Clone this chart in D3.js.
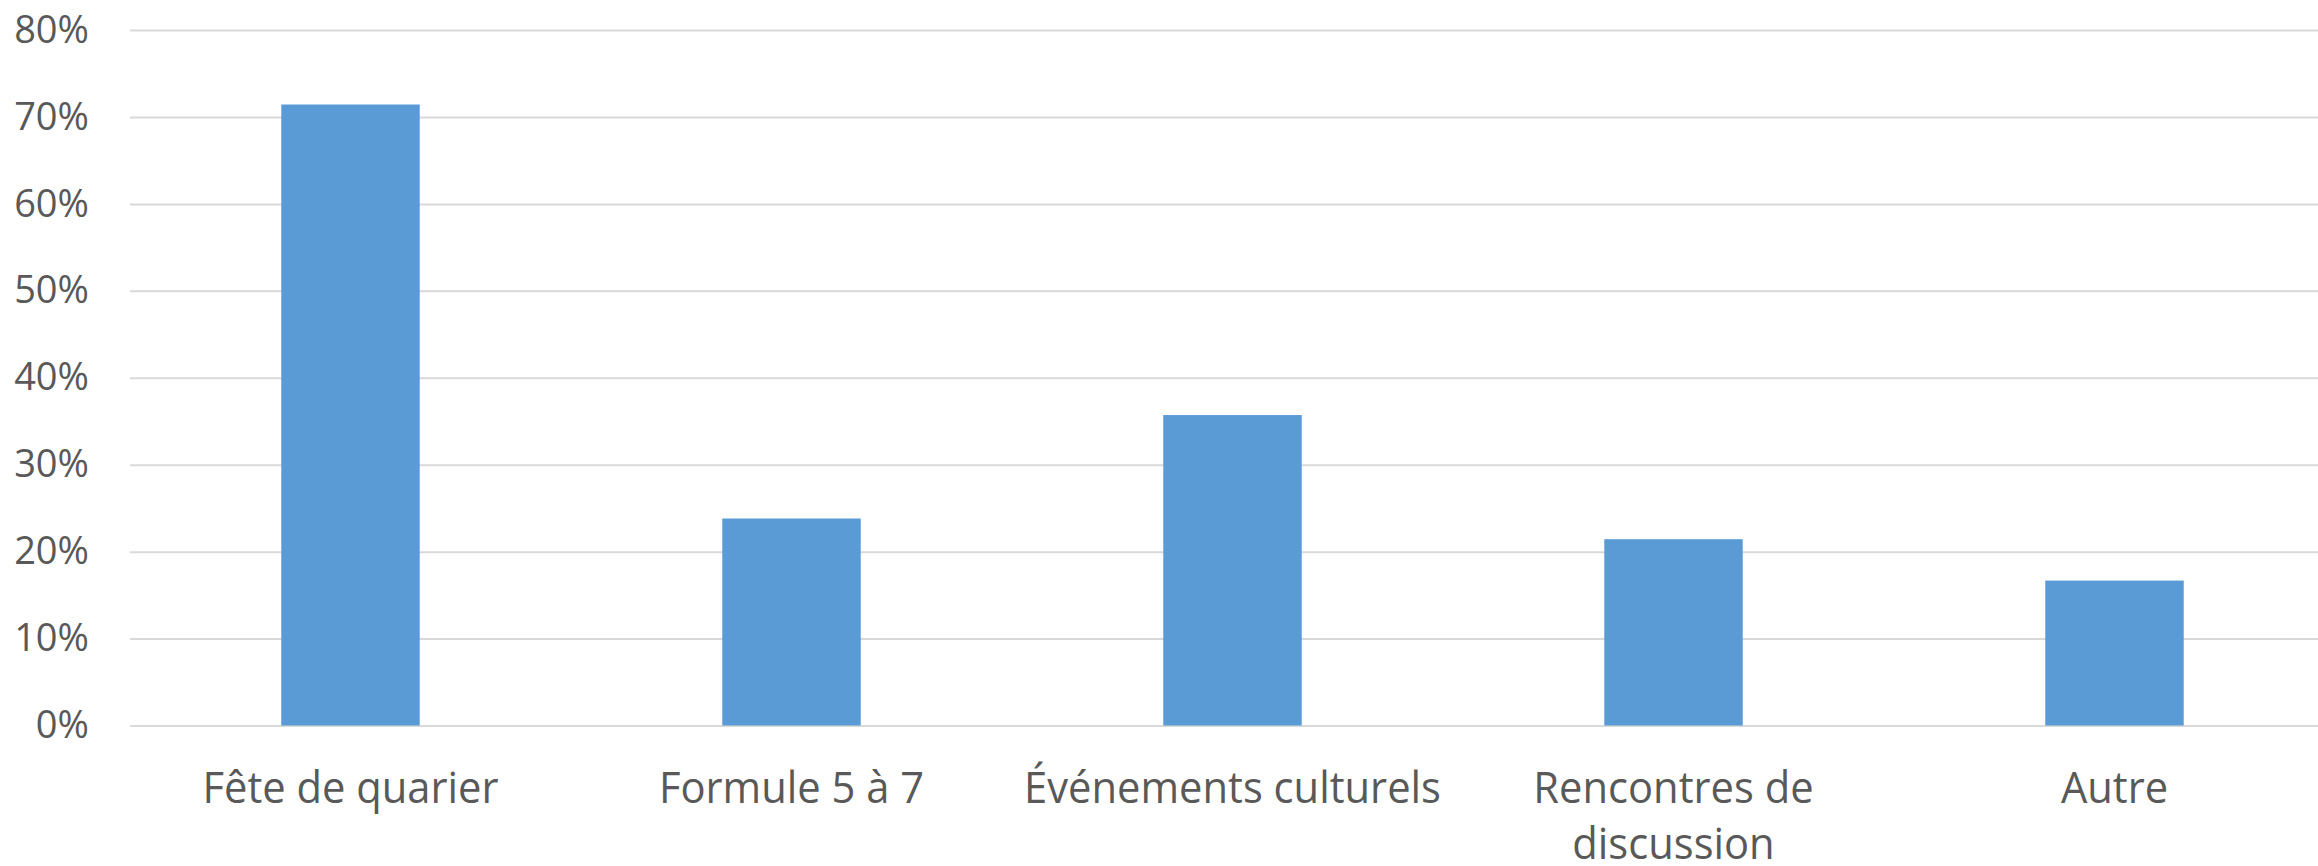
<!DOCTYPE html>
<html>
<head>
<meta charset="utf-8">
<script src="https://cdn.jsdelivr.net/npm/d3@7"></script>
<style>
  body { margin: 0; background: #fff; }
  svg { display: block; }
  .grid line { stroke: #d9d9d9; stroke-width: 2px; }
  .grid text { fill: #595959; font-family: "Open Sans", sans-serif; font-size: 38px; }
  .cats text { fill: #595959; font-family: "Open Sans", sans-serif; font-size: 43px; }
</style>
</head>
<body>
<svg id="chart" width="2318" height="866"></svg>
<script>
// survey answers (42 respondents), share per activity
const categories = ["Fête de quarier", "Formule 5 à 7", "Événements culturels", "Rencontres de discussion", "Autre"]
const values = [0.7143, 0.2381, 0.3571, 0.2143, 0.1667]
const yTicks = [0, 0.1, 0.2, 0.3, 0.4, 0.5, 0.6, 0.7, 0.8]

const plotLeft = 130
const plotRight = 2335   // plot area runs a bit past the picture edge
const plotTop = 30
const plotBottom = 725.5
const squeeze = 0.97 // slight horizontal squeeze on the category labels

const svg = d3.select("#chart")

const xScale = d3.scaleBand()
    .domain(categories)
    .range([plotLeft, plotRight])
    .paddingInner(0.686)
    .paddingOuter(0.343)

const yScale = d3.scaleLinear()
    .domain([0, 0.8])
    .range([plotBottom, plotTop])

// gridlines + percent labels
const axisL = d3.axisLeft(yScale)
    .tickValues(yTicks)
    .tickFormat(d3.format(".0%"))
    .tickSize(-(plotRight - plotLeft))
    .tickPadding(41)

svg.append("g")
    .attr("class", "grid")
    .attr("transform", "translate(" + plotLeft + ",0)")
    .call(axisL)
    .call(g => g.select(".domain").remove())

svg.append("g")
    .selectAll("rect")
    .data(values)
    .enter()
    .append("rect")
    .attr("x", (d, i) => xScale(categories[i]))
    .attr("y", d => yScale(d))
    .attr("width", xScale.bandwidth())
    .attr("height", d => yScale(0) - yScale(d))
    .attr("fill", "#5b9bd5")

// category labels, wrapped to the band width
const axisB = d3.axisBottom(xScale)
    .tickSize(0)
    .tickPadding(0)

const cats = svg.append("g")
    .attr("class", "cats")
    .attr("transform", "translate(0," + plotBottom + ")")
    .call(axisB)
cats.select(".domain").remove()

cats.selectAll(".tick text").each(function(name) {
    const text = d3.select(this)
    const words = name.split(" ")
    const maxW = xScale.step() * 0.99 / squeeze
    text.text(null).attr("y", null).attr("dy", null)
        .attr("transform", "scale(" + squeeze + ",1)")
    let lines = [[]]
    let tsp = text.append("tspan").attr("x", 0).attr("y", 78)
    words.forEach(w => {
        const cur = lines[lines.length - 1]
        cur.push(w)
        tsp.text(cur.join(" "))
        if (tsp.node().getComputedTextLength() > maxW && cur.length > 1) {
            cur.pop()
            tsp.text(cur.join(" "))
            lines.push([w])
            tsp = text.append("tspan").attr("x", 0).attr("y", 78 + 56 * (lines.length - 1)).text(w)
        }
    })
})
</script>
</body>
</html>
